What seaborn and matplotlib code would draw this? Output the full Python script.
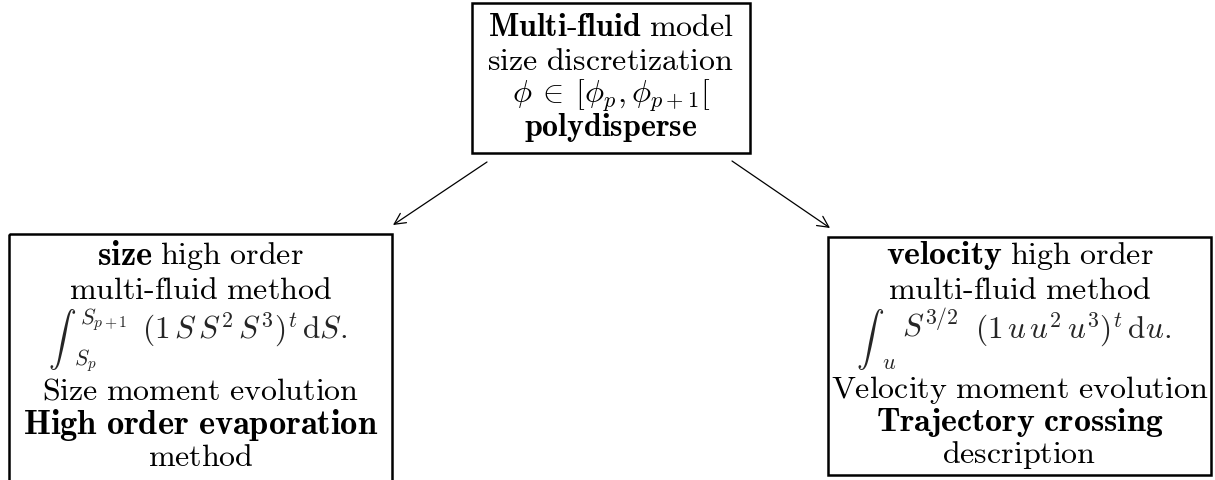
import matplotlib
matplotlib.use("Agg")
import matplotlib.pyplot as plt
from matplotlib.patches import Rectangle
import seaborn as sns

sns.set_theme(style="white")
plt.rcParams["mathtext.fontset"] = "cm"
plt.rcParams["font.family"] = ["DejaVu Serif"]

# Diagram content: each line is a list of (text, bold) segments
top_lines = [[("Multi\\text{-}fluid", True), ("model", False)],
             [("size\\ discretization", False)],
             [(None, r"$\phi\:\in\:[\phi_p, \phi_{p+1}[$")],
             [("polydisperse", True)]]
left_lines = [[("size", True), ("high\\ order", False)],
              [("multi\\text{-}fluid\\ method", False)],
              None,
              [("Size\\ moment\\ evolution", False)],
              [("High\\ order\\ evaporation", True)],
              [("method", False)]]
right_lines = [[("velocity", True), ("high\\ order", False)],
               [("multi\\text{-}fluid\\ method", False)],
               None,
               [("Velocity\\ moment\\ evolution", False)],
               [("Trajectory\\ crossing", True)],
               [("description", False)]]
left_integral = [r"$\int$", r"$S_{p+1}$", r"$S_p$", r"$(1\,S\,S^2\,S^3)^t\,\mathrm{d}S.$"]
right_integral = [r"$\int$", r"$u$", r"$S^{3/2}$", r"$(1\,u\,u^2\,u^3)^t\,\mathrm{d}u.$"]

W, H = 1215, 481
fig = plt.figure(figsize=(W / 100, H / 100), dpi=100)
ax = fig.add_axes([0, 0, 1, 1])
ax.set_xlim(0, W)
ax.set_ylim(H, 0)
ax.axis("off")
renderer = fig.canvas.get_renderer()

def draw_line(cx, y, segs, fs, bold_scale):
    arts = []
    for a, b in segs:
        if a is None:
            s, size = b, fs
        elif b:
            s, size = r"$\mathbf{" + a + "}$", fs * bold_scale
        else:
            s, size = r"$\mathrm{" + a + "}$", fs
        arts.append(ax.text(0, y, s, ha="left", va="center", fontsize=size, color="black"))
    gap = fs * 0.33
    widths = []
    for t in arts:
        bb = t.get_window_extent(renderer)
        widths.append(bb.width)
    total = sum(widths) + gap * (len(arts) - 1)
    x = cx - total / 2
    for t, w in zip(arts, widths):
        t.set_x(x)
        x += w + gap

def draw_box(x0, y0, x1, y1, lines, ys, fs, bold_scale):
    ax.add_patch(Rectangle((x0, y0), x1 - x0, y1 - y0, fill=False,
                           edgecolor="black", lw=1.8))
    cx = (x0 + x1) / 2
    for segs, y in zip(lines, ys):
        if segs is not None:
            draw_line(cx, y, segs, fs, bold_scale)

draw_box(472, 4, 750, 154, top_lines, [28, 61, 96, 128], 23, 1.0)
draw_box(9, 235, 392, 520, left_lines, [256, 291, None, 391, 425, 458], 23, 1.08)
draw_box(828, 238, 1211, 476, right_lines, [256, 291, None, 390, 423, 455], 23, 1.06)

# integral lines
ax.text(62, 340, left_integral[0], ha="center", va="center", fontsize=20)
ax.text(80, 320, left_integral[1], ha="left", va="center", fontsize=16)
ax.text(74, 361, left_integral[2], ha="left", va="center", fontsize=15.5)
ax.text(142, 330, left_integral[3], ha="left", va="center", fontsize=22.5)

ax.text(870, 340, right_integral[0], ha="center", va="center", fontsize=20)
ax.text(882, 363, right_integral[1], ha="left", va="center", fontsize=16)
ax.text(902, 327, right_integral[2], ha="left", va="center", fontsize=22.5)
ax.text(975, 330, right_integral[3], ha="left", va="center", fontsize=22.5)

arrow = dict(arrowstyle="->", color="black", lw=0.9, mutation_scale=20,
             shrinkA=0, shrinkB=0)
ax.annotate("", xy=(393, 226), xytext=(487, 163), arrowprops=arrow)
ax.annotate("", xy=(830, 229), xytext=(732, 162), arrowprops=arrow)

fig.savefig("out.png", dpi=100)
